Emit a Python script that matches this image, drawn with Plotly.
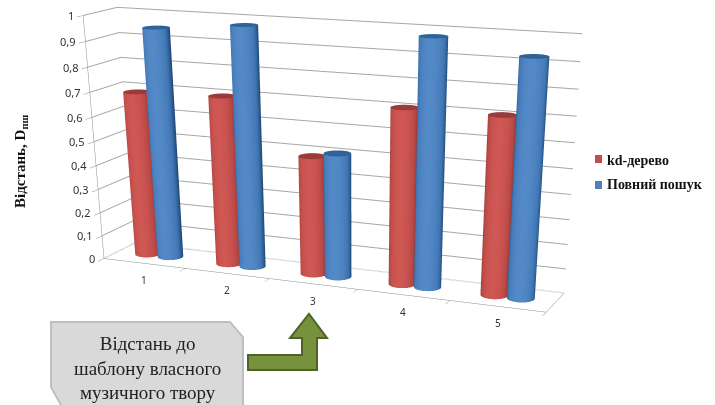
import numpy as np
import plotly.graph_objects as go

categories = [1, 2, 3, 4, 5]
kd_tree = [0.69, 0.70, 0.49, 0.71, 0.71]
full_search = [0.95, 0.98, 0.51, 0.98, 0.93]
z_ticks = [0, 0.1, 0.2, 0.3, 0.4, 0.5, 0.6, 0.7, 0.8, 0.9, 1]
x_edges = [0.5, 1.5, 2.5, 3.5, 4.5, 5.5]
series_names = ["kd-дерево", "Повний пошук"]
series_colors = ["#C0504D", "#4F81BD"]

# The reference has a much narrower lens than Plotly's fixed 45 degree one, so the
# scene is laid out on a taller paper and only the top 405 px of it are in the window.
W, H = 715, 1215
B, Z = 0.1353, 0.4976
eye = dict(x=1.209, y=-2.8026, z=0.6542)
center = dict(x=0.1167, y=-0.1103, z=-0.9732)
up = dict(x=0, y=0, z=1)

RX = 0.14
RY = RX / 5 / B
th = np.linspace(0, 2 * np.pi, 73)
lx, ly = eye["x"] - center["x"] - 0.7, eye["y"] - center["y"]
n = np.hypot(lx, ly)
shade = np.clip(np.cos(th) * lx / n + np.sin(th) * ly / n, 0, 1)

RED = [[0, "#7a2c2a"], [.5, "#b54744"], [1, "#cf5754"]]
BLUE = [[0, "#234b7a"], [.5, "#3f76b3"], [1, "#5389c7"]]
FLAT = dict(ambient=1, diffuse=0, specular=0, fresnel=0)
fig = go.Figure()


def cylinder(xc, v, scale, top):
    tx = xc + RX * np.cos(th)
    ty = .5 + RY * np.sin(th)
    fig.add_trace(go.Surface(x=np.vstack([tx, tx]), y=np.vstack([ty, ty]), z=np.vstack([0 * th, 0 * th + v]),
                             surfacecolor=np.vstack([shade, shade]), colorscale=scale, cmin=0, cmax=1,
                             showscale=False, hoverinfo="skip", lighting=FLAT))
    X2 = np.vstack([0 * th + xc, tx])
    Y2 = np.vstack([0 * th + .5, ty])
    fig.add_trace(go.Surface(x=X2, y=Y2, z=0 * X2 + v, surfacecolor=0 * X2, colorscale=[[0, top], [1, top]],
                             showscale=False, hoverinfo="skip", lighting=FLAT))


for cat, a, b in zip(categories, kd_tree, full_search):
    cylinder(cat - RX, a, RED, "#9a3b39")
    cylinder(cat + RX, b, BLUE, "#2f6296")

scene_notes = []
for t in z_ticks:
    scene_notes.append(dict(x=x_edges[0], y=0, z=t, text=f"{t:g}".replace(".", ","), showarrow=False,
                            xanchor="right", xshift=-7,
                            font=dict(family="Noto Sans", size=11, color="#333333")))
for cat in categories:
    scene_notes.append(dict(x=cat, y=0, z=0, text=str(cat), showarrow=False, yshift=-17,
                            font=dict(family="Noto Sans", size=10, color="#333333")))

axis_common = dict(showbackground=False, showspikes=False, title=dict(text=""), showticklabels=False,
                   showline=True, linecolor="#8c8c8c", linewidth=1)


def poly(points, fill, line):
    return dict(type="path", xref="paper", yref="paper", layer="above",
                path="M " + " L ".join("%f %f" % (px / W, 1 - py / H) for px, py in points) + " Z",
                fillcolor=fill, line=dict(color=line, width=2))


def note(text, px, py, size, color="#111111", xanchor="center", angle=0):
    return dict(text=text, xref="paper", yref="paper", x=px / W, y=1 - py / H, xanchor=xanchor, yanchor="middle",
                textangle=angle, showarrow=False, font=dict(family="Liberation Serif", size=size, color=color))


fig.update_layout(
    width=W, height=H, margin=dict(l=0, r=0, t=0, b=0), paper_bgcolor="white", showlegend=False,
    scene=dict(
        domain=dict(x=[0, 1], y=[0, 1]),
        aspectmode="manual", aspectratio=dict(x=1, y=B, z=Z),
        camera=dict(eye=eye, center=center, up=up, projection=dict(type="perspective")),
        xaxis=dict(range=[.5, 5.5], tickvals=x_edges, showgrid=False, ticks="outside", ticklen=4,
                   tickcolor="#8c8c8c", **axis_common),
        yaxis=dict(range=[0, 1], tickvals=[], showgrid=False, **axis_common),
        zaxis=dict(range=[0, 1], tickvals=z_ticks, showgrid=True, gridcolor="#a6a6a6", ticks="outside", ticklen=4,
                   tickcolor="#8c8c8c", **axis_common),
        annotations=scene_notes,
    ),
    annotations=[
        note("<b>Відстань, D<sub>пш</sub></b>", 21, 162, 15, angle=-90),
        note("Відстань до<br>шаблону власного<br>музичного твору", 147, 368, 19, color="#222222"),
        note("<b>" + series_names[0] + "</b>", 605, 160, 14, xanchor="left"),
        note("<b>" + series_names[1] + "</b>", 605, 185, 14, xanchor="left"),
    ],
    shapes=[
        poly([(51, 322), (230, 322), (243, 337), (243, 407), (62, 407), (51, 387)], "#D9D9D9", "#BFBFBF"),
        poly([(248, 355), (302, 355), (302, 338), (290, 338), (309, 314), (327, 338), (317, 338), (317, 370), (248, 370)],
             "#76923C", "#4F6228"),
        dict(type="rect", xref="paper", yref="paper", x0=595 / W, x1=602 / W, y0=1 - 163 / H, y1=1 - 155 / H,
             fillcolor=series_colors[0], line=dict(width=0), layer="above"),
        dict(type="rect", xref="paper", yref="paper", x0=595 / W, x1=602 / W, y0=1 - 189 / H, y1=1 - 181 / H,
             fillcolor=series_colors[1], line=dict(width=0), layer="above"),
    ],
)
fig.write_html("out.html", config=dict(displayModeBar=False),
               post_script="document.body.style.margin='0';document.documentElement.style.overflow='hidden';"
                           "document.body.style.overflow='hidden';document.body.style.height='405px';")
